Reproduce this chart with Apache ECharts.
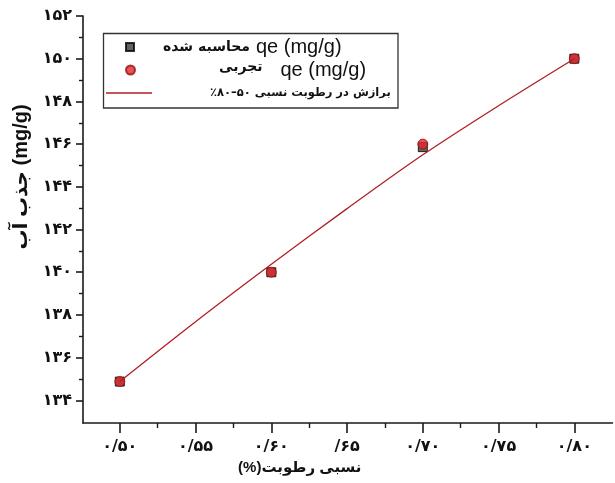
<!DOCTYPE html>
<html>
<head>
<meta charset="utf-8">
<script src="https://cdn.jsdelivr.net/npm/echarts@6/dist/echarts.min.js"></script>
<style>html,body{margin:0;padding:0;background:#fff}#c{width:615px;height:483px}</style>
</head>
<body>
<div id="c"></div>
<script>
// ---- data ----
const rh = [0.50, 0.60, 0.70, 0.80];
const qeCalc = [134.88, 140.0, 145.86, 150.0];
const qeExp = [134.88, 140.0, 146.0, 150.0];
const rhFit = [0.50, 0.55, 0.60, 0.65, 0.70, 0.75, 0.80];
const qeFit = [134.88, 137.68, 140.37, 142.98, 145.5, 147.8, 150.0];

const xTickValues = [0.50, 0.55, 0.60, 0.65, 0.70, 0.75, 0.80];
const xTickLabels = ['۰/۵۰', '۰/۵۵', '۰/۶۰', '/۶۵', '۰/۷۰', '۰/۷۵', '۰/۸۰'];
const xMinorTicks = [0.525, 0.575, 0.625, 0.675, 0.725, 0.775];
const yTickValues = [134, 136, 138, 140, 142, 144, 146, 148, 150, 152];
const yTickLabels = ['۱۳۴', '۱۳۶', '۱۳۸', '۱۴۰', '۱۴۲', '۱۴۴', '۱۴۶', '۱۴۸', '۱۵۰', '۱۵۲'];
const yMinorTicks = [135, 137, 139, 141, 143, 145, 147, 149, 151];

const nameCalc = 'qe calc';
const nameExp = 'qe exp';
const nameFit = 'fit';
const textCalcFa = 'محاسبه شده';
const textExpFa = 'تجربی';
const textQe = 'qe (mg/g)';
const textFit = 'برازش در رطوبت نسبی ۵۰–۸۰٪\u200F';
const xTitle = '(%)رطوبت\u200E \u200Eنسبی';
const yTitle = 'جذب آب (mg/g)';

// ---- chart ----
const FA = 'DejaVu Sans';
const LAT = 'Liberation Sans, DejaVu Sans, sans-serif';
const AX = '#1a1a1a';
const X_MIN = 0.4757, X_MAX = 0.8252, Y_MIN = 132.94, Y_MAX = 152;

function pick(vals, labels) {
  return function (v) {
    const i = vals.findIndex(t => Math.abs(t - v) < 1e-6);
    return i >= 0 ? labels[i] : '';
  };
}

const chart = echarts.init(document.getElementById('c'), null, { renderer: 'canvas' });
const tickLabelStyle = { fontFamily: FA, fontWeight: 'bold', fontSize: 16, color: '#111' };

const option = {
  backgroundColor: '#fff',
  animation: false,
  grid: { left: 83, right: 2.5, top: 16, bottom: 60, containLabel: false },
  xAxis: [
    {
      type: 'value', min: X_MIN, max: X_MAX, position: 'bottom',
      axisLine: { show: true, lineStyle: { color: AX, width: 1.6 } },
      axisTick: { show: true, customValues: xTickValues, length: 10, lineStyle: { color: AX, width: 1.6 } },
      axisLabel: Object.assign({ customValues: xTickValues, formatter: pick(xTickValues, xTickLabels), margin: 16 }, tickLabelStyle),
      splitLine: { show: false },
      name: xTitle, nameLocation: 'middle', nameGap: 34,
      nameTextStyle: { fontFamily: LAT, fontWeight: 'bold', fontSize: 15, color: '#111', padding: [0, 96, 0, 0] }
    },
    {
      type: 'value', min: X_MIN, max: X_MAX, position: 'bottom',
      axisLine: { show: false },
      axisTick: { show: true, customValues: xMinorTicks, length: 5, lineStyle: { color: AX, width: 1.4 } },
      axisLabel: { show: false }, splitLine: { show: false }
    }
  ],
  yAxis: [
    {
      type: 'value', min: Y_MIN, max: Y_MAX, position: 'left',
      axisLine: { show: true, lineStyle: { color: AX, width: 1.6 } },
      axisTick: { show: true, customValues: yTickValues, length: 7, lineStyle: { color: AX, width: 1.6 } },
      axisLabel: Object.assign({ customValues: yTickValues, formatter: pick(yTickValues, yTickLabels), margin: 11 }, tickLabelStyle),
      splitLine: { show: false },
      name: yTitle, nameLocation: 'middle', nameRotate: 90, nameGap: 50,
      nameTextStyle: { fontFamily: LAT, fontWeight: 'bold', fontSize: 20, color: '#111', padding: [0, 0, 0, 85] }
    },
    {
      type: 'value', min: Y_MIN, max: Y_MAX, position: 'left',
      axisLine: { show: false },
      axisTick: { show: true, customValues: yMinorTicks, length: 4, lineStyle: { color: AX, width: 1.4 } },
      axisLabel: { show: false }, splitLine: { show: false }
    }
  ],
  legend: [
    {
      data: [nameCalc], left: 125, top: 37, orient: 'vertical', padding: 0,
      itemWidth: 8, itemHeight: 8, selectedMode: false,
      formatter: () => '{pad| }{fa|' + textCalcFa + '}{sp| }{en|' + textQe + '}',
      textStyle: { rich: {
        pad: { width: 24, height: 22 },
        fa: { fontFamily: FA, fontWeight: 'bold', fontSize: 14, color: '#111', height: 22 },
        sp: { width: 6 },
        en: { fontFamily: LAT, fontSize: 20, color: '#111', height: 22 }
      } }
    },
    {
      data: [nameExp], left: 125, top: 60, orient: 'vertical', padding: 0,
      itemWidth: 9, itemHeight: 9, selectedMode: false,
      formatter: () => '{pad| }{fa|' + textExpFa + '}{sp| }{en|' + textQe + '}',
      textStyle: { rich: {
        pad: { width: 79, height: 22 },
        fa: { fontFamily: FA, fontWeight: 'bold', fontSize: 14, color: '#111', height: 22, padding: [0, 0, 5, 0] },
        sp: { width: 18 },
        en: { fontFamily: LAT, fontSize: 20, color: '#111', height: 22 }
      } }
    },
    {
      data: [{ name: nameFit, icon: 'rect' }], left: 106, top: 87, orient: 'vertical', padding: 0,
      itemWidth: 46, itemHeight: 1.4, selectedMode: false,
      formatter: () => '{pad| }{fa|' + textFit + '}',
      textStyle: { rich: {
        pad: { width: 53, height: 16 },
        fa: { fontFamily: FA, fontWeight: 'bold', fontSize: 11.5, color: '#111', height: 16 }
      } }
    }
  ],
  graphic: [
    { type: 'rect', shape: { x: 103.5, y: 33.5, width: 294.5, height: 74.5 }, style: { fill: 'none', stroke: '#333', lineWidth: 1.3 }, silent: true, z: 10 }
  ],
  series: [
    {
      name: nameCalc, type: 'scatter', symbol: 'rect', symbolSize: 9,
      data: rh.map((x, i) => [x, qeCalc[i]]),
      itemStyle: { color: '#3c3c3c', borderColor: '#000', borderWidth: 1 }, z: 2
    },
    {
      name: nameExp, type: 'scatter', symbol: 'circle', symbolSize: 10,
      data: rh.map((x, i) => [x, qeExp[i]]),
      itemStyle: { color: '#e0282c', borderColor: '#9a0e10', borderWidth: 1 }, z: 3
    },
    {
      name: nameFit, type: 'line', symbol: 'none', smooth: 0.3,
      data: rhFit.map((x, i) => [x, qeFit[i]]),
      lineStyle: { color: '#b01e24', width: 1.3 },
      itemStyle: { color: '#b01e24' }, z: 4
    }
  ]
};
chart.setOption(option);
</script>
</body>
</html>
